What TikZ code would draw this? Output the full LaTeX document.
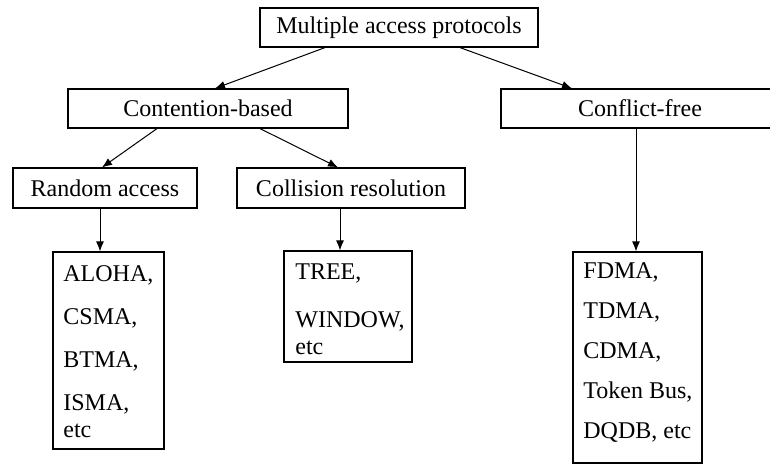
\documentclass[tikz,border=0pt]{standalone}
\usepackage{fontspec}
\setmainfont{Liberation Serif}
\usetikzlibrary{arrows.meta,positioning,calc}

\begin{document}
\begin{tikzpicture}[x=0.5pt, y=-0.5pt,
    box/.style={rectangle, draw=black, line width=0.6pt, inner sep=0pt, minimum height=19.5pt, font=\fontsize{12}{14}\selectfont},
    listbox/.style={rectangle, draw=black, line width=0.6pt, inner sep=0pt},
    items/.style={anchor=north west, inner sep=0pt, align=left, font=\fontsize{12}{13.5}\selectfont},
    arrow/.style={-{Latex[length=5pt,width=4pt]}, line width=0.5pt}
]
\useasboundingbox (0,0) rectangle (770,464);

\node[box, minimum width=139pt] (mac) at (399,27.5) {Multiple access protocols};
\node[box, minimum width=140pt] (contention) at (208,108.5) {Contention-based};
\node[box, minimum width=139pt] (conflict) at (640,108.5) {Conflict-free};
\node[box, minimum width=92pt, minimum height=20pt] (random) at (105,188) {Random access};
\node[box, minimum width=114pt, minimum height=20pt] (collision) at (351,188) {Collision resolution};

\node[listbox, minimum width=55.5pt, minimum height=98.5pt] (aloha) at (108.5,350.5) {};
\node[listbox, minimum width=64pt, minimum height=55.5pt] (tree) at (348,306.5) {};
\node[listbox, minimum width=64.5pt, minimum height=105.5pt] (fdma) at (637.5,357.5) {};

\node[items] (alohalist) at (63,265) {ALOHA,\\[8pt] CSMA,\\[8pt] BTMA,\\[8pt] ISMA,\\ etc};
\node[items] (treelist) at (295,263) {TREE,\\[10.5pt] WINDOW,\\ etc};
\node[items] (fdmalist) at (583,262) {FDMA,\\[6.5pt] TDMA,\\[6.5pt] CDMA,\\[6.5pt] Token Bus,\\[6.5pt] DQDB, etc};

\draw[arrow] ([xshift=-37pt]mac.south) -- ([xshift=3.5pt]contention.north);
\draw[arrow] ([xshift=30.5pt]mac.south) -- ([xshift=-34pt]conflict.north);
\draw[arrow] ([xshift=-25.5pt]contention.south) -- ([xshift=-1.5pt]random.north);
\draw[arrow] ([xshift=26pt]contention.south) -- ([xshift=-6.5pt]collision.north);
\draw[arrow] ([xshift=-2.5pt]random.south) -- ([xshift=-2.5pt]random.south |- aloha.north);
\draw[arrow] ([xshift=-5.5pt]collision.south) -- ([xshift=-5.5pt]collision.south |- tree.north);
\draw[arrow] ([xshift=-2pt]conflict.south) -- ([xshift=-2pt]conflict.south |- fdma.north);

\end{tikzpicture}
\end{document}
